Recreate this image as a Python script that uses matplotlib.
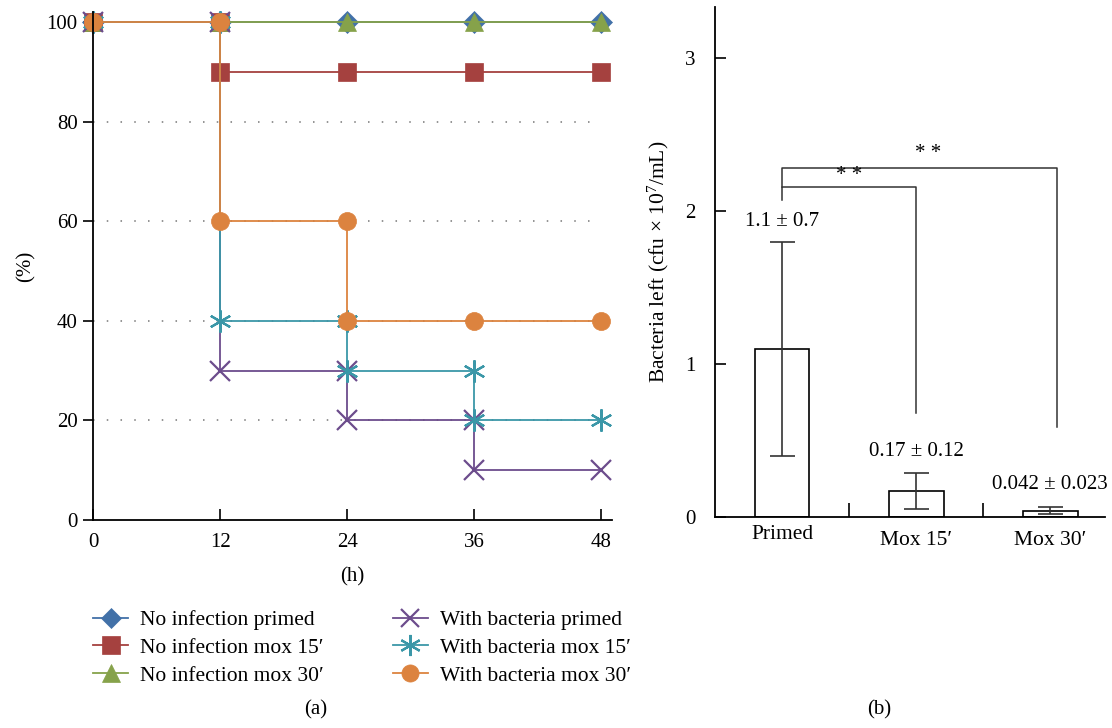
import matplotlib
matplotlib.use("Agg")
import matplotlib.pyplot as plt
import numpy as np

plt.rcParams['font.family'] = ['Liberation Serif', 'DejaVu Serif']
plt.rcParams['mathtext.fontset'] = 'custom'
plt.rcParams['mathtext.rm'] = 'Liberation Serif'
plt.rcParams['mathtext.it'] = 'Liberation Serif:italic'

# ---- Panel (a) data: survival (%) over time (h) ----
time_ticks = [0, 12, 24, 36, 48]
pct_ticks = [0, 20, 40, 60, 80, 100]

no_inf_primed_t = [0, 12, 24, 36, 48]
no_inf_primed_v = [100, 100, 100, 100, 100]

no_inf_mox15_t = [0, 12, 12, 24, 36, 48]
no_inf_mox15_v = [100, 100, 90, 90, 90, 90]

no_inf_mox30_t = [0, 12, 24, 36, 48]
no_inf_mox30_v = [100, 100, 100, 100, 100]

bact_primed_t = [0, 12, 12, 24, 24, 36, 36, 48]
bact_primed_v = [100, 100, 30, 30, 20, 20, 10, 10]

bact_mox15_t = [0, 12, 12, 24, 24, 36, 36, 48]
bact_mox15_v = [100, 100, 40, 40, 30, 30, 20, 20]

bact_mox30_t = [0, 12, 12, 24, 24, 36, 48]
bact_mox30_v = [100, 100, 60, 60, 40, 40, 40]

series_labels = ["No infection primed", "No infection mox 15\u2032", "No infection mox 30\u2032",
                 "With bacteria primed", "With bacteria mox 15\u2032", "With bacteria mox 30\u2032"]

# ---- Panel (b) data ----
categories = ["Primed", "Mox 15\u2032", "Mox 30\u2032"]
bact_means = [1.1, 0.17, 0.042]
bact_err_upper = [0.7, 0.12, 0.023]
bact_err_lower = [0.7, 0.12, 0.023]
bar_labels = ["1.1 \u00b1 0.7", "0.17 \u00b1 0.12", "0.042 \u00b1 0.023"]

fig = plt.figure(figsize=(11.12, 7.28), dpi=100)

# ================= Panel (a) =================
ax = fig.add_axes([0.0836, 0.2857, 0.4668, 0.6978])
colors = ['#4271a8', '#a5413f', '#86a24a', '#6c4c8c', '#3b97a8', '#dc833f']
markers = ['D', 's', '^', 'x', (6, 2, 0), 'o']
msizes = [11, 13, 13, 14, 16, 13]
ts = [no_inf_primed_t, no_inf_mox15_t, no_inf_mox30_t, bact_primed_t, bact_mox15_t, bact_mox30_t]
vs = [no_inf_primed_v, no_inf_mox15_v, no_inf_mox30_v, bact_primed_v, bact_mox15_v, bact_mox30_v]

ax.hlines([20, 40, 60, 80], 0, 48, colors='#777777', linestyles=(0, (1, 8)), lw=1.1, zorder=0)

handles = []
for t, v, c, m, ms, lab in zip(ts, vs, colors, markers, msizes, series_labels):
    mew = 1.6 if m in ('x', (6, 2, 0)) else 0.5
    h, = ax.plot(t, v, color=c, lw=1.3, marker=m, ms=ms, mec=c, mfc=c, mew=mew,
                 label=lab, clip_on=False)
    handles.append(h)

ax.set_xlim(0, 49)
ax.set_ylim(0, 102)
ax.set_xticks(time_ticks)
ax.set_yticks(pct_ticks)
ax.spines['top'].set_visible(False)
ax.spines['right'].set_visible(False)
ax.spines['left'].set_linewidth(1.3)
ax.spines['bottom'].set_linewidth(1.3)
ax.tick_params(axis='x', direction='in', length=8, width=1.2, labelsize=15, pad=9)
ax.tick_params(axis='y', direction='out', length=7, width=1.2, labelsize=15, pad=4)
ax.set_xlabel("(h)", fontsize=15, labelpad=11)
ax.set_ylabel("(%)", fontsize=15, labelpad=8)

fig.legend(handles=handles, loc='upper left', bbox_to_anchor=(0.0836, 0.162), ncol=2,
           frameon=False, fontsize=15.5, handlelength=1.63, handletextpad=0.56,
           columnspacing=3.2, labelspacing=0.36, borderpad=0, borderaxespad=0,
           markerscale=0.95)

fig.text(0.284, 0.019, "(a)", fontsize=15, ha='center')

# ================= Panel (b) =================
bx = fig.add_axes([0.643, 0.2898, 0.3507, 0.6999])
xpos = np.arange(len(categories))
bx.bar(xpos, bact_means, width=0.41, color='white', edgecolor='black', lw=1.2, zorder=2)
bx.errorbar(xpos, bact_means, yerr=[bact_err_lower, bact_err_upper], fmt='none',
            ecolor='#333333', elinewidth=1.2, capsize=9, capthick=1.2, zorder=3)

label_y = [1.93, 0.43, 0.21]
for x, y, s in zip(xpos, label_y, bar_labels):
    bx.text(x, y, s, ha='center', va='center', fontsize=15)

# significance brackets
bx.plot([0, 0, 1, 1], [2.07, 2.16, 2.16, 0.68], color='#333333', lw=1.1)
bx.plot([0, 0, 2.05, 2.05], [2.16, 2.28, 2.28, 0.59], color='#333333', lw=1.1)
bx.text(0.5, 2.23, "* *", ha='center', va='center', fontsize=15)
bx.text(1.09, 2.375, "* *", ha='center', va='center', fontsize=15)

bx.set_xlim(-0.5, 2.41)
bx.set_ylim(0, 3.33)
bx.set_yticks([0, 1, 2, 3])
bx.set_xticks(xpos)
bx.set_xticklabels(categories, fontsize=15.5)
bx.set_xticks([0.5, 1.5], minor=True)
bx.tick_params(axis='x', which='major', length=0, pad=6)
bx.tick_params(axis='x', which='minor', direction='in', length=10, width=1.2)
bx.tick_params(axis='y', direction='in', length=8, width=1.2, labelsize=15, pad=14)
for lab in bx.get_xticklabels()[1:]:
    lab.set_y(-0.012)
bx.spines['top'].set_visible(False)
bx.spines['right'].set_visible(False)
bx.spines['left'].set_linewidth(1.3)
bx.spines['bottom'].set_linewidth(1.3)
bx.set_ylabel("Bacteria left (cfu \u00d7 10$^{\\mathrm{7}}$/mL)", fontsize=15.5, labelpad=10)

fig.text(0.791, 0.019, "(b)", fontsize=15, ha='center')

fig.savefig("out.png", dpi=100)
